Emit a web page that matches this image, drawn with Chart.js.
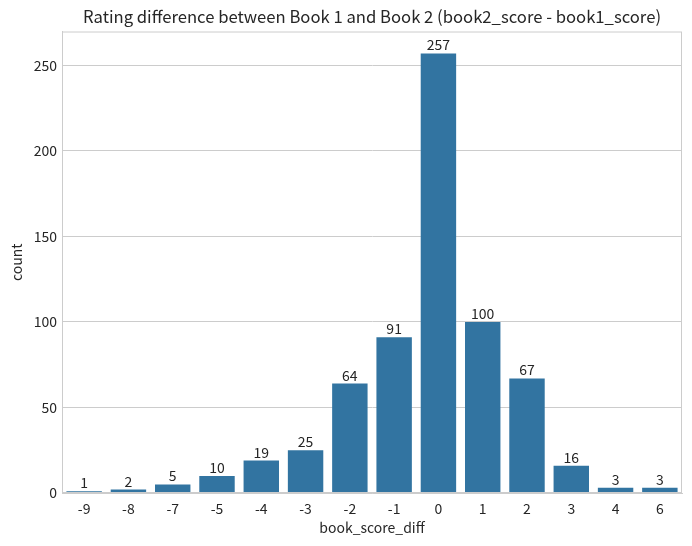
<!DOCTYPE html>
<html>
<head>
<meta charset="utf-8">
<script src="https://cdn.jsdelivr.net/npm/chart.js@4"></script>
<style>
  html, body { margin: 0; padding: 0; background: #fff; }
  #wrap { width: 692px; height: 546px; }
</style>
</head>
<body>
<div id="wrap"><canvas id="diffChart"></canvas></div>
<script>
const categories = ["-9", "-8", "-7", "-5", "-4", "-3", "-2", "-1", "0", "1", "2", "3", "4", "6"];
const counts = [1, 2, 5, 10, 19, 25, 64, 91, 257, 100, 67, 16, 3, 3];
const yTicks = [0, 50, 100, 150, 200, 250];

const FONT = "'Noto Sans CJK JP', 'Noto Sans', sans-serif";
const TEXT = "#262626";
const GRID = "#cccccc";

// value labels on top of the bars + right/top spines
const extras = {
    id: "extras",
    afterDatasetsDraw(chart) {
        const ctx = chart.ctx;
        const meta = chart.getDatasetMeta(0);
        ctx.save();
        ctx.font = "14px " + FONT;
        ctx.fillStyle = TEXT;
        ctx.textAlign = "center";
        ctx.textBaseline = "alphabetic";
        meta.data.forEach((bar, i) => {
            ctx.fillText(String(counts[i]), bar.x, bar.y - 3);
        });
        const a = chart.chartArea;
        ctx.strokeStyle = GRID;
        ctx.lineWidth = 1;
        ctx.strokeRect(a.left + 0.5, a.top + 0.5, a.right - a.left - 1, a.bottom - a.top - 1);
        ctx.restore();
    },
};

new Chart(document.getElementById("diffChart"), {
    type: "bar",
    data: {
        labels: categories,
        datasets: [
            {
                label: "count",
                data: counts,
                backgroundColor: "#3274a1",
                borderWidth: 0,
                categoryPercentage: 1,
                barPercentage: 0.8,
            },
        ],
    },
    options: {
        responsive: true,
        maintainAspectRatio: false,
        animation: false,
        layout: {
            padding: { top: 0, right: 10, bottom: 0, left: 0 },
        },
        plugins: {
            legend: { display: false },
            tooltip: { enabled: false },
            title: {
                display: true,
                fullSize: false,
                text: "Rating difference between Book 1 and Book 2 (book2_score - book1_score)",
                color: TEXT,
                font: { family: FONT, size: 16.67, weight: "normal" },
                padding: { top: 7, bottom: 4.5 },
            },
        },
        scales: {
            x: {
                grid: { display: false, drawTicks: false },
                border: { display: true, color: GRID },
                ticks: {
                    color: TEXT,
                    font: { family: FONT, size: 14 },
                    padding: 7,
                    maxRotation: 0,
                },
                title: {
                    display: true,
                    text: "book_score_diff",
                    color: TEXT,
                    font: { family: FONT, size: 14 },
                    padding: { top: 0, bottom: 10 },
                },
                afterFit(scale) {
                    scale.height = 53;
                },
            },
            y: {
                min: 0,
                max: 269.85,
                afterBuildTicks(scale) {
                    scale.ticks = yTicks.map((v) => ({ value: v }));
                },
                grid: { color: GRID, drawTicks: false },
                border: { display: true, color: GRID },
                ticks: {
                    color: TEXT,
                    font: { family: FONT, size: 14 },
                    padding: 5,
                },
                title: {
                    display: true,
                    text: "count",
                    color: TEXT,
                    font: { family: FONT, size: 14 },
                    padding: { top: 8, bottom: 0 },
                },
                afterFit(scale) {
                    scale.width = 62;
                },
            },
        },
    },
    plugins: [extras],
});
</script>
</body>
</html>
